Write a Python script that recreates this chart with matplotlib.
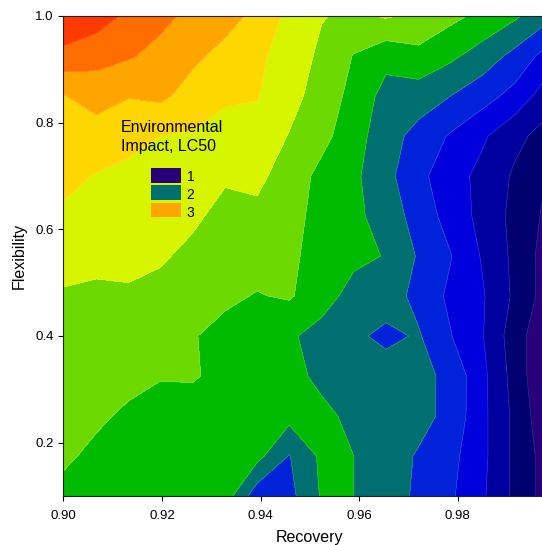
import numpy as np
import matplotlib
matplotlib.use("Agg")
import matplotlib.pyplot as plt
from matplotlib.patches import Rectangle

plt.rcParams['font.family'] = ['Liberation Sans', 'DejaVu Sans']

# grid of the contour data
recovery = [0.9000, 0.9067, 0.9132, 0.9197, 0.9262, 0.9328, 0.9393, 0.9458,
            0.9524, 0.9589, 0.9654, 0.9720, 0.9785, 0.9850, 0.9916, 0.9984]
# rows from top (1.0) to bottom (0.1)
flexibility = [1.0, 0.925, 0.85, 0.775, 0.7, 0.625, 0.55, 0.475, 0.4, 0.325, 0.25, 0.175, 0.1]

lc50 = [
    [3.58, 3.50, 3.36, 3.25, 3.15, 3.07, 2.95, 2.75, 2.61, 2.56, 2.62, 2.56, 2.45, 2.35, 2.23, 2.05],
    [3.34, 3.27, 3.22, 3.14, 3.04, 2.94, 2.84, 2.71, 2.56, 2.39, 2.26, 2.34, 2.24, 2.11, 1.94, 1.71],
    [2.99, 3.08, 3.01, 3.04, 2.92, 2.83, 2.81, 2.67, 2.51, 2.34, 2.13, 2.10, 2.00, 1.88, 1.73, 1.48],
    [2.92, 2.91, 2.85, 2.80, 2.78, 2.72, 2.73, 2.59, 2.46, 2.28, 2.09, 1.93, 1.78, 1.63, 1.45, 1.32],
    [2.85, 2.79, 2.76, 2.74, 2.70, 2.62, 2.64, 2.52, 2.34, 2.24, 2.06, 1.85, 1.69, 1.54, 1.37, 1.19],
    [2.77, 2.71, 2.70, 2.68, 2.63, 2.55, 2.56, 2.46, 2.34, 2.25, 2.11, 1.92, 1.72, 1.54, 1.34, 1.15],
    [2.67, 2.64, 2.64, 2.62, 2.56, 2.49, 2.47, 2.43, 2.34, 2.25, 2.19, 1.98, 1.81, 1.58, 1.35, 1.10],
    [2.58, 2.57, 2.58, 2.55, 2.47, 2.43, 2.39, 2.42, 2.29, 2.12, 2.10, 1.94, 1.76, 1.62, 1.36, 1.10],
    [2.54, 2.52, 2.51, 2.48, 2.41, 2.35, 2.32, 2.23, 2.12, 2.04, 1.95, 2.02, 1.81, 1.61, 1.29, 1.02],
    [2.50, 2.47, 2.45, 2.41, 2.42, 2.34, 2.30, 2.24, 2.17, 2.12, 2.10, 2.06, 1.95, 1.65, 1.32, 0.98],
    [2.46, 2.43, 2.37, 2.33, 2.30, 2.28, 2.26, 2.26, 2.23, 2.17, 2.10, 2.07, 1.94, 1.65, 1.35, 1.03],
    [2.43, 2.36, 2.33, 2.30, 2.28, 2.27, 2.26, 1.99, 2.24, 2.20, 2.10, 1.98, 1.86, 1.65, 1.35, 1.10],
    [2.35, 2.32, 2.30, 2.28, 2.27, 2.30, 1.88, 1.94, 2.22, 2.20, 2.08, 1.97, 1.83, 1.63, 1.35, 1.10],
]

levels = [0.8, 1.0, 1.2, 1.4, 1.6, 1.8, 2.0, 2.2, 2.4, 2.6, 2.8, 3.0, 3.2, 3.4, 3.6]
colors = ['#4b0082', '#28007a', '#000070', '#00009f', '#0000dc', '#0022d8', '#006f6f',
          '#00bb00', '#6cd900', '#d8f500', '#ffd700', '#ffa500', '#ff6c00', '#ff3a00']

legend_labels = ['1', '2', '3']
legend_colors = ['#28007a', '#006f6f', '#ffa500']

X, Y = np.meshgrid(recovery, flexibility[::-1])
Z = np.array(lc50)[::-1]

fig = plt.figure(figsize=(5.42, 5.45), dpi=100)
ax = fig.add_axes([63.3 / 542, 49 / 545, 493.2 / 542, 480 / 545])

ax.contourf(X, Y, Z, levels=levels, colors=colors)
ax.contour(X, Y, Z, levels=levels, colors='white', linewidths=0.4, alpha=0.25)

ax.set_xlim(0.9, 1.0)
ax.set_ylim(0.1, 1.0)
ax.set_xticks([0.90, 0.92, 0.94, 0.96, 0.98])
ax.set_xticklabels(['0.90', '0.92', '0.94', '0.96', '0.98'])
ax.set_yticks([0.2, 0.4, 0.6, 0.8, 1.0])
ax.set_yticklabels(['0.2', '0.4', '0.6', '0.8', '1.0'])
ax.tick_params(direction='out', length=3.6, width=0.8, labelsize=9.5)
ax.tick_params(axis='x', pad=6.8)
ax.tick_params(axis='y', pad=3.5)
for s in ax.spines.values():
    s.set_linewidth(0.8)
    s.set_color('#222222')

ax.set_xlabel('Recovery', fontsize=11.5, labelpad=5.5)
ax.set_ylabel('Flexibility', fontsize=11.5, labelpad=6)

# legend drawn by hand
fig.text(120.7 / 542, 1 - 132.3 / 545, 'Environmental', fontsize=11.5, va='baseline')
fig.text(120.7 / 542, 1 - 151 / 545, 'Impact, LC50', fontsize=11.5, va='baseline')
tops = [168.3, 185, 202.7]
baselines = [181, 199, 216.7]
for lab, col, t, b in zip(legend_labels, legend_colors, tops, baselines):
    fig.add_artist(Rectangle((151 / 542, 1 - (t + 14.5) / 545), 30 / 542, 14.5 / 545,
                             transform=fig.transFigure, facecolor=col, edgecolor='none'))
    fig.text(186.5 / 542, 1 - b / 545, lab, fontsize=10, va='baseline')

fig.savefig('out.png', dpi=100)
